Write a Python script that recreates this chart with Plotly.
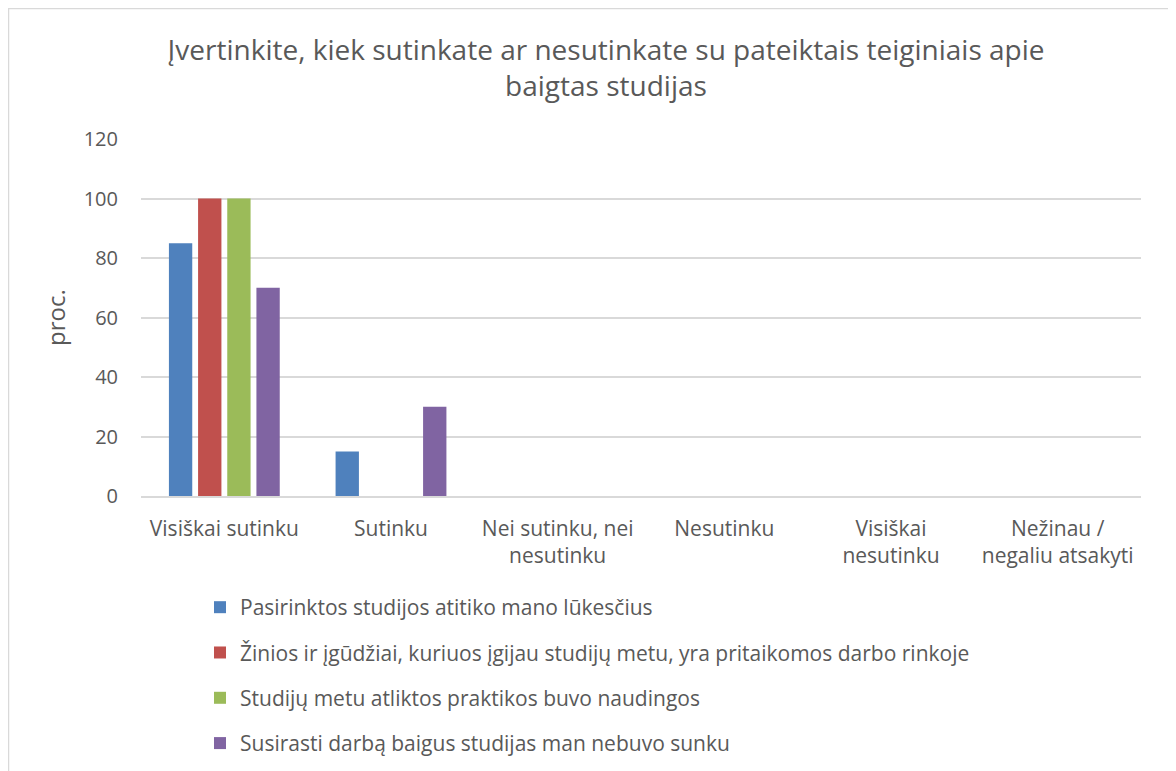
import plotly.graph_objs as go

categories = ['Visiškai sutinku', 'Sutinku', 'Nei sutinku, nei<br>nesutinku', 'Nesutinku',
              'Visiškai<br>nesutinku', 'Nežinau /<br>negaliu atsakyti']
series_names = ['Pasirinktos studijos atitiko mano lūkesčius',
                'Žinios ir įgūdžiai, kuriuos įgijau studijų metu, yra pritaikomos darbo rinkoje',
                'Studijų metu atliktos praktikos buvo naudingos',
                'Susirasti darbą baigus studijas man nebuvo sunku']
lukesciai = [85, 15, 0, 0, 0, 0]
pritaikomos = [100, 0, 0, 0, 0, 0]
praktikos = [100, 0, 0, 0, 0, 0]
darbas = [70, 30, 0, 0, 0, 0]
y_ticks = [0, 20, 40, 60, 80, 100, 120]

colors = ['#4F81BD', '#C0504D', '#9BBB59', '#8064A2']
FONT = 'Open Sans, sans-serif'
TXT = '#595959'

# page body has an 8px margin; the figure runs a little past the bottom like the reference
W, H = 1168, 771

fig = go.Figure()
for i, (name, vals) in enumerate(zip(series_names, [lukesciai, pritaikomos, praktikos, darbas])):
    fig.add_trace(go.Bar(x=categories, y=vals, name=name, marker_color=colors[i],
                         marker_line_width=0, legendgroup='g%d' % i))

fig.update_layout(
    width=W, height=H,
    plot_bgcolor='white', paper_bgcolor='white',
    font=dict(family=FONT, color=TXT, size=21),
    margin=dict(l=133, r=35, t=131, b=283),
    barmode='group', bargap=0.30, bargroupgap=0.2,
    title=dict(text='Įvertinkite, kiek sutinkate ar nesutinkate su pateiktais teiginiais apie<br>baigtas studijas',
               font=dict(size=28, color=TXT), x=598 / W, xanchor='center', y=1 - 52 / H, yanchor='middle'),
    legend=dict(x=0.059, y=-0.255, xanchor='left', yanchor='top', orientation='v',
                traceorder='grouped', tracegroupgap=15, font=dict(size=21, color=TXT)),
    shapes=[dict(type='rect', xref='paper', yref='paper',
                 x0=(0.5 - 133) / 1000, x1=(1162 - 133) / 1000,
                 y0=(488 - 800) / 357, y1=(488 - 0.5) / 357,
                 line=dict(color='#D9D9D9', width=1.5), layer='below')],
)
fig.update_xaxes(showgrid=False, showline=True, linecolor='#D9D9D9', linewidth=1.5,
                 ticks='', ticklabelstandoff=13, tickfont=dict(size=21, color=TXT), automargin=False)
fig.update_yaxes(range=[0, 120], tickvals=y_ticks, showgrid=True, gridcolor='#D9D9D9',
                 gridwidth=1.5, zeroline=False, ticks='', ticklabelstandoff=22,
                 tickfont=dict(size=20, color=TXT), automargin=False,
                 title=dict(text='proc.', font=dict(size=24, color=TXT), standoff=11))

fig.write_html('out.html')
